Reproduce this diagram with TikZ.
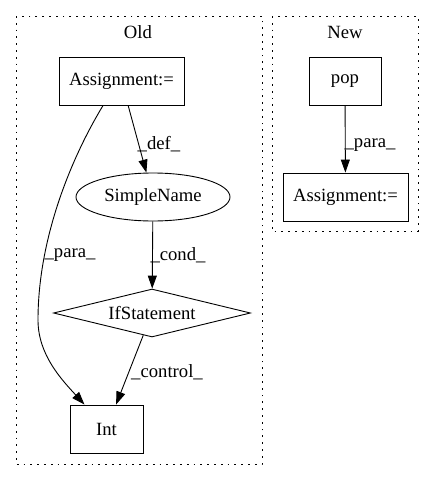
\documentclass[tikz,border=0pt]{standalone}
\usepackage{fontspec}
\setmainfont{Liberation Serif}
\usetikzlibrary{shapes.geometric,arrows.meta}
\begin{document}
\begin{tikzpicture}[x=1pt,y=-1pt,
  every node/.style={font=\fontsize{18.67}{21}\selectfont},
  box/.style={draw,line width=0.9pt,rectangle,minimum height=48pt,inner sep=0pt},
  ell/.style={draw,line width=0.9pt,ellipse,minimum width=154pt,minimum height=48pt,inner sep=0pt},
  dia/.style={draw,line width=0.9pt,diamond,aspect=4.1,minimum width=197pt,minimum height=48pt,inner sep=0pt},
  cluster/.style={draw,line width=0.9pt,dash pattern=on 1.8pt off 5pt},
  edge/.style={line width=0.9pt,-{Triangle[length=13pt,width=9pt]}},
  lab/.style={inner sep=0pt}]
\useasboundingbox (0,0) rectangle (435,480);
\draw[cluster] (16,16) rectangle (262,464);
\draw[cluster] (272,16) rectangle (418,231);
\node[lab] (old) at (138,32) {Old};
\node[lab] (new) at (345,32) {New};
% Old
\node[box,minimum width=125pt] (a1) at (121.5,81) {Assignment:=};
\node[ell] (sn) at (153,197) {SimpleName};
\node[dia] (if) at (152,313) {IfStatement};
\node[box,minimum width=73pt] (int) at (106.5,429) {Int};
\coordinate (p1) at (38,320);
\draw[line width=0.9pt] (a1.233) .. controls (70,160) and (38,240) .. (p1);
\draw[edge] (p1) .. controls (38,355) and (62,380) .. (int.132);
\draw[edge] (a1) -- (sn);
\draw[edge] (sn) -- (if);
\draw[edge] (if) -- (int);
\node[lab] (l1) at (159,144) {\_def\_};
\node[lab] (l2) at (70,255) {\_para\_};
\node[lab] (l3) at (178,255) {\_cond\_};
\node[lab] (l4) at (167,372) {\_control\_};
% New
\node[box,minimum width=72pt] (pop) at (345,81) {pop};
\node[box,minimum width=125pt] (a2) at (345.5,197) {Assignment:=};
\draw[edge] (pop) -- (a2);
\node[lab] (l5) at (370,145) {\_para\_};
\end{tikzpicture}
\end{document}
